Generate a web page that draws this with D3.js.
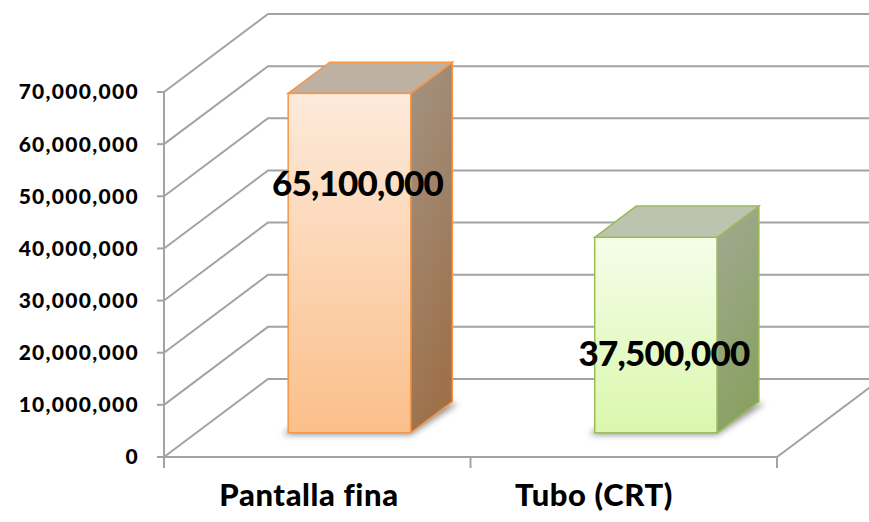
<!DOCTYPE html>
<html>
<head>
<meta charset="utf-8">
<script src="https://cdn.jsdelivr.net/npm/d3@7"></script>
<style>
  body { margin: 0; background: #fff; }
  text { font-family: Lato, "Open Sans", sans-serif; font-weight: 900; fill: #000; }
</style>
</head>
<body>
<div id="my_dataviz"></div>
<script>
// data
var categories = ["Pantalla fina", "Tubo (CRT)"];
var values = [65100000, 37500000];
var yTicks = [0, 10000000, 20000000, 30000000, 40000000, 50000000, 60000000, 70000000];

// colours per bar: front top, front bottom, top face, side top, side bottom, edge
var palette = [
  {front0: "#fdeadb", front1: "#fbbf8a", top: "#bfb1a2", side0: "#a29484", side1: "#9e714b", edge: "#f79646"},
  {front0: "#f5fde9", front1: "#daf7ad", top: "#bcc4b0", side0: "#a1a993", side1: "#8aa163", edge: "#9bbb59"}
];

var width = 869, height = 522;

var svg = d3.select("#my_dataviz")
  .append("svg")
    .attr("width", width)
    .attr("height", height);

// 3d depth vector of the whole plot box
var DX = 104, DY = -78;
var barStart = 0.31, barDepth = 0.40;

var x = d3.scaleBand()
  .domain(categories)
  .range([164, 777]);

var y = d3.scaleLinear()
  .domain([0, 70000000])
  .range([457, 92]);

var fmt = d3.format(",");
var gridColor = "#a3a3a3";

// walls: left diagonals + back wall gridlines
var grid = svg.append("g")
  .attr("fill", "none")
  .attr("stroke", gridColor)
  .attr("stroke-width", 2);

yTicks.forEach(function(t) {
  grid.append("path")
    .attr("d", d3.line()([
      [x.range()[0], y(t)],
      [x.range()[0] + DX, y(t) + DY],
      [x.range()[1] + DX, y(t) + DY]
    ]));
});

// floor front edge and right edge
grid.append("path")
  .attr("d", d3.line()([
    [x.range()[0], y(0)],
    [x.range()[1], y(0)],
    [x.range()[1] + DX, y(0) + DY]
  ]));

// value axis line and ticks
grid.append("line")
  .attr("x1", x.range()[0]).attr("x2", x.range()[0])
  .attr("y1", y(0)).attr("y2", y(70000000));

yTicks.forEach(function(t) {
  grid.append("line")
    .attr("x1", x.range()[0] - 7).attr("x2", x.range()[0])
    .attr("y1", y(t)).attr("y2", y(t));
});

// category ticks at band edges
var edges = categories.map(function(c) { return x(c); }).concat([x.range()[1]]);
edges.forEach(function(e) {
  grid.append("line")
    .attr("x1", e).attr("x2", e)
    .attr("y1", y(0)).attr("y2", y(0) + 11);
});

// y labels
svg.append("g")
  .selectAll("text")
  .data(yTicks)
  .join("text")
    .attr("x", 139)
    .attr("y", function(d) { return y(d) + 2; })
    .attr("text-anchor", "end")
    .attr("dominant-baseline", "middle")
    .style("font-size", "21px")
    .style("letter-spacing", "1.3px")
    .text(function(d) { return fmt(d); });

// gradients and shadow
var defs = svg.append("defs");
palette.forEach(function(p, i) {
  var g = defs.append("linearGradient").attr("id", "front" + i)
    .attr("x1", 0).attr("y1", 0).attr("x2", 0).attr("y2", 1);
  g.append("stop").attr("offset", "0%").attr("stop-color", p.front0);
  g.append("stop").attr("offset", "100%").attr("stop-color", p.front1);
  var s = defs.append("linearGradient").attr("id", "side" + i)
    .attr("x1", 0).attr("y1", 0).attr("x2", 0.3).attr("y2", 1);
  s.append("stop").attr("offset", "0%").attr("stop-color", p.side0);
  s.append("stop").attr("offset", "100%").attr("stop-color", p.side1);
});
defs.append("filter").attr("id", "blur")
  .attr("x", "-20%").attr("y", "-50%").attr("width", "140%").attr("height", "200%")
  .append("feGaussianBlur").attr("stdDeviation", 3);

// bars
var bw = x.bandwidth() * 0.4;
var fx = DX * barStart, fy = DY * barStart;
var bx = DX * barDepth, by = DY * barDepth;

var bars = svg.append("g");
categories.forEach(function(c, i) {
  var p = palette[i];
  var x0 = x(c) + (x.bandwidth() - bw) / 2 + fx;
  var x1 = x0 + bw;
  var yb = y(0) + fy;
  var yt = y(values[i]) + fy;

  // soft shadow on the floor
  bars.append("path")
    .attr("d", d3.line()([[x0 - 6, yb + 2], [x1, yb + 2], [x1 + bx + 6, yb + by + 2], [x0 + bx, yb + by]]) + "Z")
    .attr("fill", "#777")
    .attr("opacity", 0.8)
    .attr("filter", "url(#blur)");

  // front
  bars.append("rect")
    .attr("x", x0).attr("y", yt)
    .attr("width", bw).attr("height", yb - yt)
    .attr("fill", "url(#front" + i + ")")
    .attr("stroke", p.edge).attr("stroke-width", 1.5);
  // side
  bars.append("path")
    .attr("d", d3.line()([[x1, yt], [x1 + bx, yt + by], [x1 + bx, yb + by], [x1, yb]]) + "Z")
    .attr("fill", "url(#side" + i + ")")
    .attr("stroke", p.edge).attr("stroke-width", 1.5);
  // top
  bars.append("path")
    .attr("d", d3.line()([[x0, yt], [x0 + bx, yt + by], [x1 + bx, yt + by], [x1, yt]]) + "Z")
    .attr("fill", p.top)
    .attr("stroke", p.edge).attr("stroke-width", 1.5);
});

// value labels, placed as in the original 3d layout
var labelFrac = [0.27, 0.60];
svg.append("g")
  .selectAll("text")
  .data(values)
  .join("text")
    .attr("x", function(d, i) { return x(categories[i]) + x.bandwidth() / 2 + fx + 8; })
    .attr("y", function(d, i) {
      var yt = y(d) + fy, yb = y(0) + fy;
      return yt + (yb - yt) * labelFrac[i] + 2;
    })
    .attr("text-anchor", "middle")
    .attr("dominant-baseline", "middle")
    .style("font-size", "35px")
    .style("letter-spacing", "-0.8px")
    .text(function(d) { return fmt(d); });

// category labels
var xl = d3.scalePoint().domain(categories).range([309, 594]);
svg.append("g")
  .selectAll("text")
  .data(categories)
  .join("text")
    .attr("x", function(d) { return xl(d); })
    .attr("y", 506)
    .attr("text-anchor", "middle")
    .style("font-size", "31px")
    .style("letter-spacing", "0.6px")
    .text(function(d) { return d; });
</script>
</body>
</html>
